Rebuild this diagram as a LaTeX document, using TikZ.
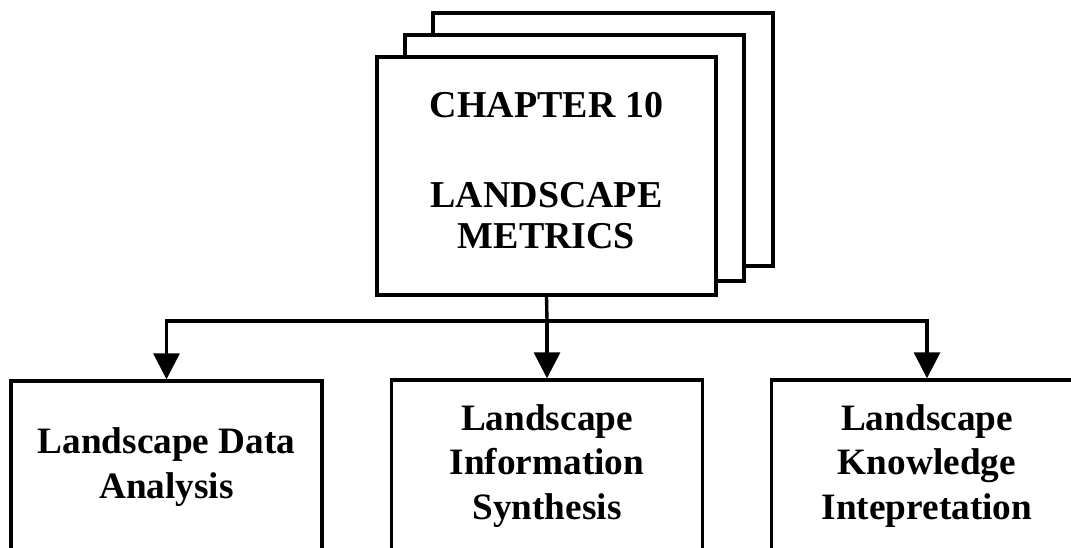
\documentclass[tikz,border=0pt]{standalone}
\usepackage{fontspec}
\setmainfont{Liberation Serif}
\usetikzlibrary{arrows.meta}

\tikzset{
  box/.style={draw, line width=2.4pt, fill=white, align=center, inner sep=0pt,
    font=\bfseries\fontsize{26.5}{31.5}\selectfont,
    minimum width=7.775cm, minimum height=4.3cm},
  link/.style={line width=2.4pt, -{Triangle[length=0.65cm, width=0.65cm]}},
}

\begin{document}
\begin{tikzpicture}[x=0.025cm, y=-0.025cm]
%\draw [help lines, step=100] (0,0) grid (1071,547);
\useasboundingbox (0,0) rectangle (1071,547);

% pages stacked behind the chapter
\draw [line width=2.4pt, fill=white] (433,13) rectangle (773,266);
\draw [line width=2.4pt, fill=white] (405,35) rectangle (744,281);

\node [box, minimum width=8.475cm, minimum height=5.95cm, text depth=8pt,
  font=\bfseries\fontsize{27}{29}\selectfont] (chap) at (546.5,176)
  {CHAPTER 10\\[1.3em] LANDSCAPE\\ METRICS};

% the three parts
\node [box] (data) at (166.5,467) {Landscape Data\\ Analysis};
\node [box] (info) at (547,466) {Landscape\\ Information\\ Synthesis};
\node [box] (know) at (927,466) {Landscape\\ Knowledge\\ Intepretation};

\coordinate (split) at (547,321);
\draw [line width=2.4pt] (chap.south) -- (split);
\draw [link] (split) -| (data.north);
\draw [link] (split) -- (info.north);
\draw [link] (split) -| (know.north);

\end{tikzpicture}
\end{document}
